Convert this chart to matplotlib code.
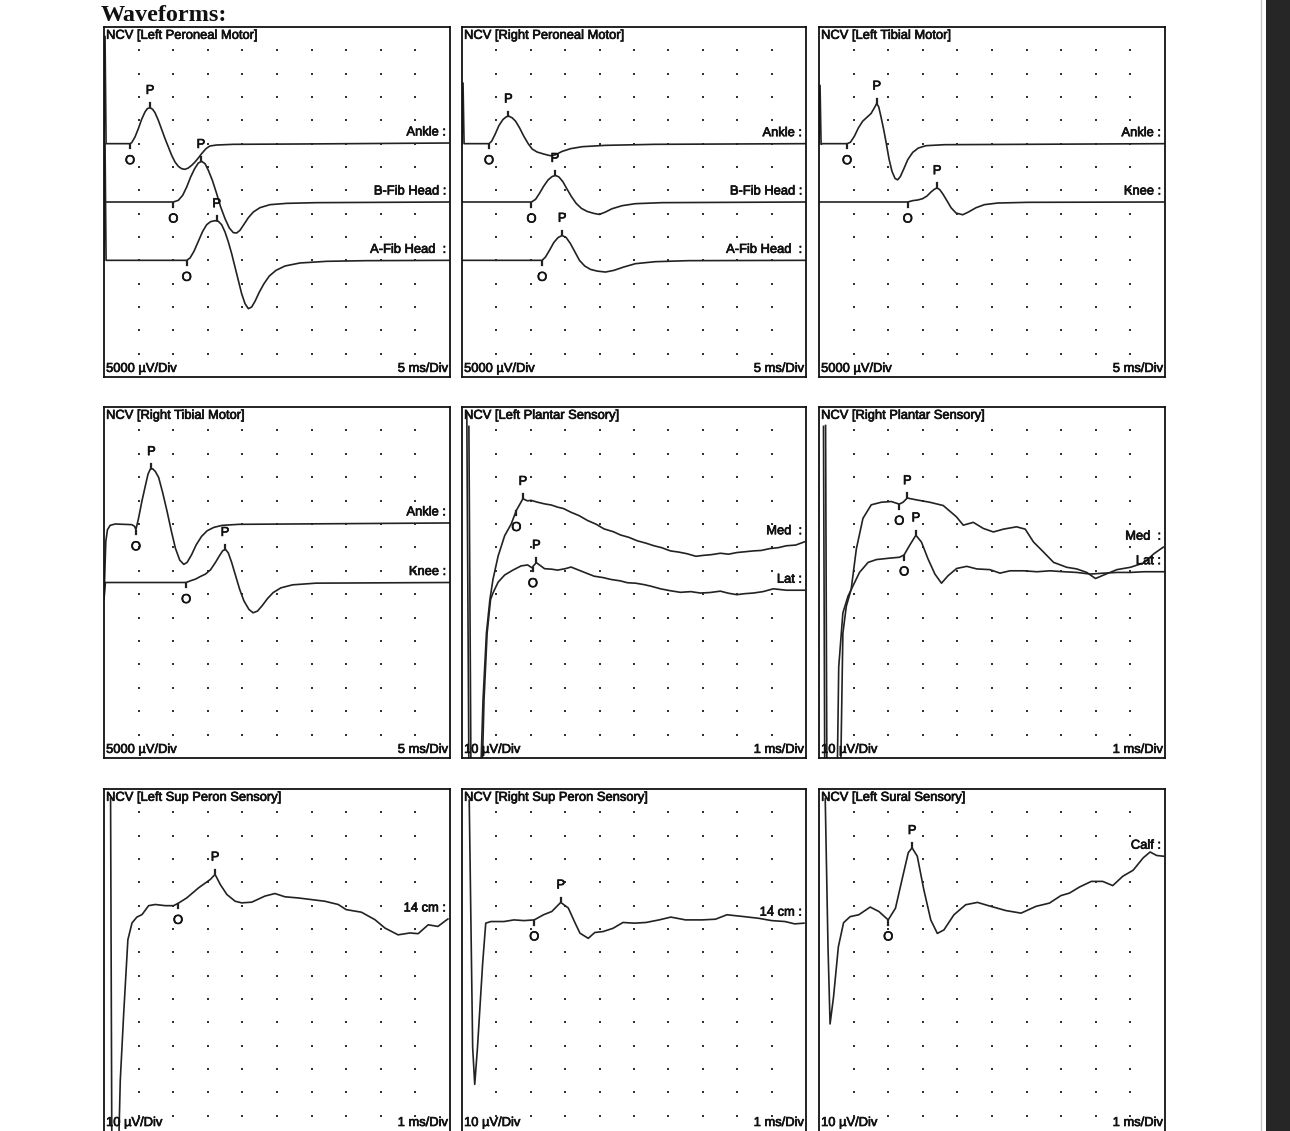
import numpy as np
import matplotlib.pyplot as plt
import matplotlib.patheffects as pe
from matplotlib.patches import Rectangle
from matplotlib.lines import Line2D

plt.rcParams['font.family'] = ['Liberation Sans', 'DejaVu Sans']

INK = '#222222'

# ---------------- waveform data: time (ms), amplitude (uV) ----------------
# Left Peroneal Motor
lpm_ankle_ms = [0, 0.15, 0.3, 3.76, 4.0, 4.48, 4.96, 5.44, 5.92, 6.26, 6.65, 7.03, 7.37, 7.85, 8.33, 8.82, 9.3, 9.78,
                10.26, 10.74, 11.22, 11.7, 12.19, 12.67, 13.15, 13.63, 14.11, 14.74, 15.3, 16.28, 18.7, 28.3, 49.8]
lpm_ankle_uv = [0, 23000, 0, 0, 214, 1430, 3210, 5210, 6790, 7500, 7710, 7360, 6640, 5000, 3070, 1070, -710, -2500,
                -3930, -4860, -5360, -5500, -5210, -4640, -3930, -3070, -2140, -1070, -500, -290, -140, -70, 140]
lpm_bfib_ms = [0, 10.02, 10.74, 11.37, 11.95, 12.52, 13.1, 13.63, 14.11, 14.6, 15.08, 15.66, 16.28, 16.86, 17.49, 18.11,
               18.69, 19.17, 19.65, 20.23, 20.86, 21.58, 22.54, 23.99, 26.4, 30.7, 49.8]
lpm_bfib_uv = [0, 0, 360, 1430, 3210, 5360, 7140, 8360, 8710, 8210, 6790, 4640, 1790, -1070, -3570, -5570,
               -6570, -6640, -6070, -4790, -3360, -2140, -1210, -570, -290, -140, 0]
lpm_afib_ms = [0, 0.15, 0.3, 11.95, 12.43, 13.0, 13.63, 14.26, 14.84, 15.41, 16.04, 16.52, 17.0, 17.49, 17.97, 18.45,
               18.93, 19.41, 19.89, 20.38, 20.86, 21.34, 21.82, 22.45, 23.12, 23.89, 24.86, 26.16, 28.3, 32.2, 37.9, 49.8]
lpm_afib_uv = [0, 25000, 0, 0, 500, 1930, 4070, 6210, 7640, 8290, 8500, 8360, 7640, 6070, 3930, 1430,
               -1430, -4290, -7140, -9290, -10360, -10000, -8790, -6790, -5000, -3360, -2140, -1210, -570, -210, -70, 0]

# Right Peroneal Motor
rpm_ankle_ms = [0, 0.15, 0.3, 3.92, 4.3, 4.79, 5.37, 5.95, 6.43, 6.82, 7.3, 7.79, 8.37, 8.99, 9.62, 10.2, 10.93, 11.9,
                12.86, 13.59, 14.56, 15.76, 17.46, 20.84, 28.1, 50]
rpm_ankle_uv = [0, 13000, 0, 0, 500, 1940, 3880, 5170, 5750, 5890, 5530, 4810, 3380, 1580, 0, -1150, -1800, -2230,
                -2590, -2370, -1650, -1080, -650, -360, -140, 0]
rpm_bfib_ms = [0, 10.1, 10.69, 11.27, 11.9, 12.52, 13.1, 13.59, 14.07, 14.65, 15.28, 15.91, 16.59, 17.36, 18.18, 19.15,
               19.97, 20.84, 21.81, 23.27, 25.2, 29.06, 50]
rpm_bfib_uv = [0, 0, 570, 1870, 3450, 4740, 5460, 5680, 5390, 4380, 2730, 1150, -290, -1370, -2010, -2440,
               -2660, -2160, -1440, -790, -360, -140, 0]
rpm_afib_ms = [0, 11.65, 12.14, 12.72, 13.34, 13.97, 14.56, 15.14, 15.76, 16.39, 17.07, 17.84, 18.67, 19.63, 20.84,
               22.05, 23.5, 25.19, 28.09, 32.9, 50]
rpm_afib_uv = [0, 0, 720, 2160, 3810, 4890, 5320, 4890, 3590, 1870, 0, -1220, -1940, -2300, -2510,
               -2160, -1440, -720, -290, -70, 0]

# Left Tibial Motor
ltm_ankle_ms = [0, 0.15, 0.3, 0.5, 4.05, 4.53, 5.11, 5.69, 6.31, 6.94, 7.52, 8.0, 8.34, 8.63, 8.96, 9.35, 9.73, 10.12,
                10.55, 10.99, 11.37, 11.76, 12.24, 12.82, 13.54, 14.36, 15.47, 18.12, 49.93]
ltm_ankle_uv = [0, 12500, -150, 0, 0, 290, 1580, 3370, 4810, 5670, 6460, 7680, 8610, 7890, 5740, 3010, 0, -3300,
                -5950, -7460, -7750, -7030, -5450, -3440, -1870, -930, -430, -220, 0]
ltm_knee_ms = [0, 12.82, 13.54, 14.27, 14.99, 15.61, 16.19, 16.67, 17.06, 17.45, 17.93, 18.51, 19.08, 19.81, 20.77,
               21.59, 22.7, 23.9, 25.83, 30.17, 49.93]
ltm_knee_uv = [0, 0, 290, 430, 720, 1290, 2150, 2730, 3010, 2650, 1650, 220, -1220, -2370, -2730,
               -2150, -1220, -570, -220, -70, 0]

# Right Tibial Motor
rtm_ankle_ms = [0, 0.26, 0.5, 0.89, 1.62, 4.03, 4.42, 4.61, 5.0, 5.48, 5.97, 6.36, 6.69, 7.03, 7.42, 7.9, 8.48, 9.11,
                9.74, 10.32, 10.94, 11.53, 12.01, 12.64, 13.32, 14.09, 14.91, 15.88, 17.07, 19.5, 49.97]
rtm_ankle_uv = [-15970, -3740, -1220, -290, 0, -140, -500, -1220, 1290, 4890, 8130, 10650, 11730, 11800, 11220, 9930,
                6690, 2730, -1580, -5180, -7700, -8630, -8200, -6620, -4460, -2660, -1440, -720, -290, -70, 220]
rtm_knee_ms = [0, 0.2, 11.87, 12.49, 13.22, 13.94, 14.67, 15.4, 16.12, 16.7, 17.18, 17.57, 17.96, 18.44, 19.02, 19.6,
               20.23, 20.95, 21.54, 22.17, 22.89, 23.62, 24.44, 25.55, 27.24, 30.63, 49.97]
rtm_knee_uv = [-3600, 0, 0, 360, 720, 1290, 1800, 2730, 4320, 5760, 6830, 7050, 6330, 4320, 1440, -1440,
               -3960, -5760, -6470, -6120, -4890, -3450, -2160, -1150, -500, -140, 0]

# Left Plantar Sensory
lps_med_ms = [0.14, 0.2, 0.55, 0.61, 0.71, 0.81, 0.9, 1.05, 1.24, 1.43, 1.58, 1.77, 1.9, 2.01, 2.2, 2.4, 2.6, 2.78, 2.95, 3.17, 3.4,
              3.65, 3.9, 4.13, 4.4, 4.61, 4.85, 5.1, 5.35, 5.58, 5.8, 6.06, 6.3, 6.54, 6.8, 7.02, 7.25, 7.51, 7.75, 7.99, 8.2,
              8.47, 8.7, 8.95, 9.2, 9.43, 9.7, 9.96]
lps_med_uv = [55, -96, -96, -67.6, -38.8, -24.5, -15.8, -5.8, 2.9, 7.9, 13.7, 18.7, 17.8, 18.0, 17.2, 16.5, 16.0, 15.1, 14.5, 12.9, 11.5,
              9.4, 7.8, 5.8, 4.6, 3.2, 2.2, 0.7, -0.3, -1.4, -2.2, -3.6, -4.1, -4.8, -5.9, -5.5, -5.2, -4.6, -5.0, -4.3, -4.0,
              -3.6, -3.4, -2.6, -2.2, -1.4, -1.1, 0.3]
lps_lat_ms = [0.2, 0.26, 0.59, 0.64, 0.73, 0.83, 0.9, 1.05, 1.24, 1.48, 1.72, 1.91, 2.03, 2.16, 2.4, 2.6, 2.78, 3.0, 3.17, 3.46, 3.84,
              4.1, 4.33, 4.6, 4.81, 5.05, 5.29, 5.5, 5.77, 6.05, 6.35, 6.65, 6.93, 7.2, 7.51, 7.75, 7.99, 8.2, 8.47, 8.75, 9.05,
              9.43, 9.96]
lps_lat_uv = [70, -76, -76, -47, -18.4, -4, -1.2, 3.45, 6.5, 8.6, 10.4, 10.8, 9.6, 11.8, 9.2, 9.0, 8.6, 9.2, 9.9, 8.2, 6.0,
              5.4, 4.6, 4.0, 3.2, 3.0, 2.4, 1.7, 0.6, -0.2, -0.9, -0.6, -1.2, -1.0, -0.4, -1.3, -1.9, -1.5, -1.2, -0.6, 0.6,
              0, 0]

# Right Plantar Sensory
rps_med_ms = [0.13, 0.17, 0.61, 0.69, 0.79, 0.93, 1.08, 1.27, 1.51, 1.8, 2.09, 2.32, 2.43, 2.55, 2.82, 3.2, 3.59, 3.97, 4.17, 4.46,
              4.75, 5.04, 5.33, 5.71, 5.96, 6.2, 6.49, 6.78, 7.16, 7.45, 7.74, 7.99, 8.23, 8.61, 9.0, 9.39, 9.68, 9.95]
rps_med_uv = [53, -110, -110, -35.4, -23.8, -16.6, 0.7, 13.7, 19.5, 20.6, 20.9, 19.8, 20.6, 22.4, 21.6, 20.6, 19.2, 14.4, 10.8, 12.0,
              9.4, 7.9, 9.1, 10.1, 9.1, 3.6, -0.7, -5.1, -7.2, -7.9, -9.4, -12.0, -10.5, -8.2, -7.2, -5.3, -1.4, 1.4]
rps_lat_ms = [0.19, 0.23, 0.52, 0.57, 0.69, 0.84, 0.98, 1.17, 1.42, 1.66, 2.04, 2.33, 2.46, 2.62, 2.8, 2.96, 3.15, 3.35, 3.54, 3.73,
              3.98, 4.27, 4.56, 4.94, 5.23, 5.52, 5.91, 6.3, 6.68, 7.07, 7.45, 7.84, 8.23, 8.61, 9.0, 9.39, 9.97]
rps_lat_uv = [62.5, -95, -95, -40.7, -17.6, -10.4, -6.1, -0.3, 4.0, 5.2, 5.8, 6.2, 7.2, 11.3, 15.6, 12.7, 5.5, -1.0, -4.9, -1.7,
              1.4, 2.3, 1.2, 0.9, -0.6, 0.4, 0.4, 0, 0.4, 0, -0.3, -1.0, -0.6, -0.3, -0.3, 0, 0]

# Left Sup Peron Sensory
lsp_ms = [0.19, 0.23, 0.4, 0.47, 0.57, 0.69, 0.81, 0.95, 1.1, 1.29, 1.48, 1.77, 2.01, 2.13, 2.39, 2.73, 3.07, 3.21, 3.36, 3.55,
          3.79, 3.98, 4.27, 4.65, 4.94, 5.23, 5.62, 6.0, 6.38, 6.77, 7.0, 7.44, 7.83, 8.12, 8.5, 8.84, 9.08, 9.37, 9.65, 9.94]
lsp_uv = [52, -112, -112, -69, -40, -8.6, -1.4, 1.1, 2.2, 6.0, 6.5, 6.0, 6.0, 6.9, 9.3, 13.6, 17.2, 19.4, 15.1, 10.8,
          7.9, 7.2, 7.5, 10.1, 11.2, 9.8, 9.3, 8.6, 7.9, 6.5, 4.3, 3.2, 0, -3.6, -6.5, -5.7, -6.0, -2.2, -2.9, 0.3]

# Right Sup Peron Sensory
rsp_ms = [0.21, 0.31, 0.37, 0.45, 0.6, 0.69, 0.84, 1.22, 1.51, 1.8, 2.1, 2.37, 2.61, 2.87, 3.09, 3.29, 3.43, 3.67, 3.86, 4.1,
          4.39, 4.68, 5.01, 5.35, 5.73, 6.07, 6.5, 6.98, 7.37, 7.7, 8.14, 8.62, 9.0, 9.39, 9.67, 9.94]
rsp_uv = [53, -53, -68.8, -53, -17, 0.3, 1.0, 1.0, 1.7, 1.4, 1.7, 3.9, 5.3, 9.2, 6.8, 0.3, -4.0, -6.2, -3.7, -3.3,
          -1.9, 0.6, 0.3, 0.6, 1.7, 2.9, 1.7, 1.7, 2.0, 3.9, 3.2, 2.4, 1.4, 1.0, 0, 0.3]

# Left Sural Sensory
lss_ms = [0.18, 0.26, 0.32, 0.42, 0.56, 0.71, 0.9, 1.15, 1.48, 1.73, 2.0, 2.21, 2.4, 2.58, 2.69, 2.84, 3.03, 3.23, 3.42, 3.61,
          3.9, 4.24, 4.58, 4.92, 5.4, 5.84, 6.27, 6.66, 6.99, 7.24, 7.53, 7.87, 8.2, 8.49, 8.78, 9.08, 9.37, 9.57, 9.76, 9.95]
lss_uv = [52, -11.5, -44.6, -33, -11.5, -1.2, 1.4, 2.2, 5.5, 3.6, 0, 5.0, 17.3, 28.8, 30.9, 27.3, 12.9, 0, -5.8, -4.3,
          2.2, 6.5, 7.5, 6.0, 4.0, 2.9, 5.8, 7.2, 10.4, 11.5, 14.1, 16.5, 16.5, 14.7, 18.7, 21.3, 26.6, 29.1, 27.6, 27.3]

# ---------------- panel descriptions ----------------
# trace: (label, times, amplitudes, baseline position in divisions, onset ms, peak ms)
panels = [
    dict(title='NCV [Left Peroneal Motor]', uv_div=5000, ms_div=5, traces=[
        ('Ankle :', lpm_ankle_ms, lpm_ankle_uv, 10.0, 3.76, 6.65),
        ('B-Fib Head :', lpm_bfib_ms, lpm_bfib_uv, 7.5, 10.02, 14.0),
        ('A-Fib Head  :', lpm_afib_ms, lpm_afib_uv, 5.0, 11.95, 16.28)]),
    dict(title='NCV [Right Peroneal Motor]', uv_div=5000, ms_div=5, traces=[
        ('Ankle :', rpm_ankle_ms, rpm_ankle_uv, 10.0, 3.92, 6.73),
        ('B-Fib Head :', rpm_bfib_ms, rpm_bfib_uv, 7.5, 10.1, 13.5),
        ('A-Fib Head  :', rpm_afib_ms, rpm_afib_uv, 5.0, 11.65, 14.55)]),
    dict(title='NCV [Left Tibial Motor]', uv_div=5000, ms_div=5, traces=[
        ('Ankle :', ltm_ankle_ms, ltm_ankle_uv, 10.0, 4.05, 8.34),
        ('Knee :', ltm_knee_ms, ltm_knee_uv, 7.5, 12.82, 17.06)]),
    dict(title='NCV [Right Tibial Motor]', uv_div=5000, ms_div=5, traces=[
        ('Ankle :', rtm_ankle_ms, rtm_ankle_uv, 10.0, 4.61, 6.84),
        ('Knee :', rtm_knee_ms, rtm_knee_uv, 7.5, 11.87, 17.48)]),
    dict(title='NCV [Left Plantar Sensory]', uv_div=10, ms_div=1, traces=[
        ('Med  :', lps_med_ms, lps_med_uv, 9.21, 1.58, 1.77),
        ('Lat :', lps_lat_ms, lps_lat_uv, 7.17, 2.06, 2.16)]),
    dict(title='NCV [Right Plantar Sensory]', uv_div=10, ms_div=1, traces=[
        ('Med  :', rps_med_ms, rps_med_uv, 8.87, 2.32, 2.55),
        ('Lat :', rps_lat_ms, rps_lat_uv, 7.96, 2.46, 2.8)]),
    dict(title='NCV [Left Sup Peron Sensory]', uv_div=10, ms_div=1, traces=[
        ('14 cm :', lsp_ms, lsp_uv, 9.4, 2.14, 3.21)]),
    dict(title='NCV [Right Sup Peron Sensory]', uv_div=10, ms_div=1, traces=[
        ('14 cm :', rsp_ms, rsp_uv, 9.22, 2.1, 2.87)]),
    dict(title='NCV [Left Sural Sensory]', uv_div=10, ms_div=1, traces=[
        ('Calf :', lss_ms, lss_uv, 9.39, 2.0, 2.69)]),
]

W, H = 1290, 1131
cols = [(104, 450), (462, 806), (819, 1165)]
rows = [(27, 377), (407, 758), (789, 1139)]

fig = plt.figure(figsize=(W / 100, H / 100), dpi=100)
fig.patch.set_facecolor('white')

fig.text(101 / W, 1 - 21 / H, 'Waveforms:', family=['Liberation Serif', 'DejaVu Serif'],
         fontsize=17.5, fontweight='bold', ha='left', va='baseline', color='#111111')

FS = 9.3
TXT = dict(fontsize=FS, color='#111111',
           path_effects=[pe.withStroke(linewidth=0.5, foreground='#111111')])

for i, p in enumerate(panels):
    x0, x1 = cols[i % 3]
    y0, y1 = rows[i // 3]
    ax = fig.add_axes([x0 / W, 1 - y1 / H, (x1 - x0) / W, (y1 - y0) / H])
    xmax = 10 * p['ms_div']
    ax.set_xlim(0, xmax)
    ax.set_ylim(0, 15)
    ax.set_xticks([])
    ax.set_yticks([])
    for s in ax.spines.values():
        s.set_linewidth(1.3)
        s.set_color('#111111')

    # dotted grid
    gx, gy = np.meshgrid(np.arange(1, 10) * p['ms_div'], np.arange(1, 15))
    ax.plot(gx.ravel(), gy.ravel(), ls='none', marker='s', ms=1.8, mew=0, color='#333333')

    for name, t, uv, off, t_on, t_pk in p['traces']:
        t = np.asarray(t, dtype=float)
        y = off + np.asarray(uv, dtype=float) / p['uv_div']
        ax.plot(t, y, color=INK, lw=1.2, solid_joinstyle='round')
        ax.text(0.988 * xmax, y[-1] + 0.45, name, ha='right', va='center', **TXT)

        yo = np.interp(t_on, t, y)
        ax.plot([t_on, t_on], [yo - 0.04, yo - 0.2], color=INK, lw=1.6)
        ax.text(t_on, yo - 0.75, 'O', ha='center', va='center', **TXT)

        yp = np.interp(t_pk, t, y)
        ax.plot([t_pk, t_pk], [yp + 0.04, yp + 0.2], color=INK, lw=1.6)
        ax.text(t_pk, yp + 0.72, 'P', ha='center', va='center', **TXT)

    # keep the bottom captions inside the page for the last row
    yb = max(0.006, (y1 - 1129) / (y1 - y0))
    ax.text(0.006, 0.992, p['title'], transform=ax.transAxes, ha='left', va='top', **TXT)
    ax.text(0.006, yb, f"{p['uv_div']} µV/Div", transform=ax.transAxes, ha='left', va='bottom', **TXT)
    ax.text(0.994, yb, f"{p['ms_div']} ms/Div", transform=ax.transAxes, ha='right', va='bottom', **TXT)

# page edge of the scanned document
fig.add_artist(Line2D([1261 / W, 1261 / W], [0, 1], transform=fig.transFigure, color='#c8c8c8', lw=1))
fig.add_artist(Rectangle((1266 / W, 0), 24 / W, 1, transform=fig.transFigure, color='#262626', lw=0))

fig.savefig('out.png', dpi=100)
